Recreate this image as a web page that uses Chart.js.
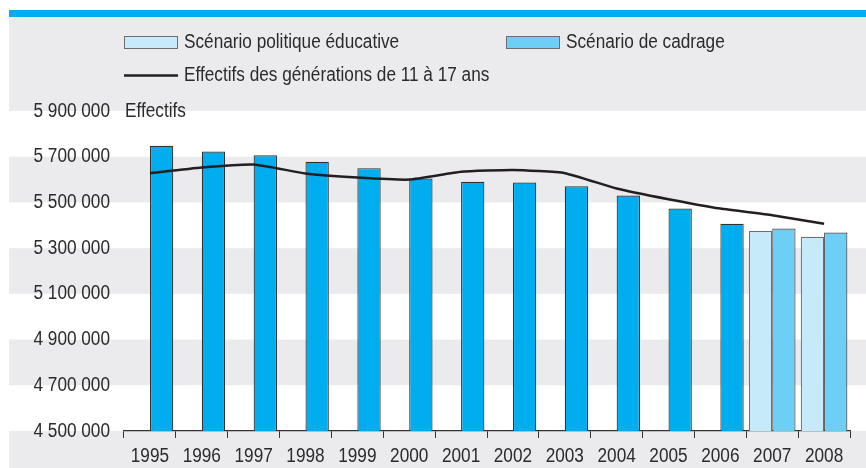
<!DOCTYPE html>
<html>
<head>
<meta charset="utf-8">
<script src="https://cdn.jsdelivr.net/npm/chart.js@4.4.1/dist/chart.umd.min.js"></script>
<style>
html,body{margin:0;padding:0;background:#fff;}
#wrap{width:866px;height:468px;position:relative;}
</style>
</head>
<body>
<div id="wrap"><canvas id="c" width="866" height="468"></canvas></div>
<script>
// ---- data ----
const years = ['1995','1996','1997','1998','1999','2000','2001','2002','2003','2004','2005','2006','2007','2008'];
const politiqueEducative = [null,null,null,null,null,null,null,null,null,null,null,null,5375000,5350000];
const cadrage = [5748000,5723000,5706000,5678000,5650000,5605000,5590000,5587000,5571000,5530000,5473000,5407000,5386000,5368000];
const generations11a17 = [5628000,5653000,5666000,5627000,5609000,5600000,5634000,5642000,5628000,5561000,5514000,5473000,5444000,5407000];
const yTicks = [4500000,4700000,4900000,5100000,5300000,5500000,5700000,5900000];
const labels = {
  pol: 'Scénario politique éducative',
  cad: 'Scénario de cadrage',
  gen: 'Effectifs des générations de 11 à 17 ans',
  yTitle: 'Effectifs'
};
const firstProjectedYear = '2007';

// ---- styles ----
const FONT = '"Liberation Sans", Arial, sans-serif';
const FSIZE = 20;
const SQUEEZE = 0.86; // condensed look
const TXT = '#2b2b2b';
const BLUE = '#00aeef';
const CAD = '#6dcff6';
const POL = '#c6eaf9';
const GRAY = '#ebebee';

function fmt(v){ return String(v).replace(/\B(?=(\d{3})+(?!\d))/g,' '); }

const projIdx = years.indexOf(firstProjectedYear);

const canvas = document.getElementById('c');
const ctx0 = canvas.getContext('2d');
const origFill = ctx0.fillText;
ctx0.fillText = function(t, x, y, mw){
  const w = this.measureText(t).width * SQUEEZE;
  return origFill.call(this, t, x, y, (mw !== undefined && mw !== null) ? Math.min(mw, w) : w);
};

const bgPlugin = {
  id:'bg',
  beforeDraw(chart){
    const ctx = chart.ctx, y = chart.scales.y;
    ctx.save();
    ctx.fillStyle = '#fff';
    ctx.fillRect(0,0,chart.width,chart.height);
    ctx.fillStyle = BLUE;
    ctx.fillRect(9,10,chart.width-9,7);
    ctx.fillStyle = GRAY;
    ctx.fillRect(9,17,chart.width-9,chart.height-17);
    ctx.fillStyle = '#fff';
    for (let i = yTicks.length-1; i > 0; i -= 2){
      const t = y.getPixelForValue(yTicks[i]);
      const b = y.getPixelForValue(yTicks[i-1]);
      ctx.fillRect(9,t,chart.width-9,b-t);
    }
    ctx.restore();
  },
  afterDraw(chart){
    const ctx = chart.ctx, y = chart.scales.y, a = chart.chartArea;
    ctx.save();
    ctx.font = FSIZE + 'px ' + FONT;
    ctx.fillStyle = TXT;
    ctx.textBaseline = 'middle';
    ctx.textAlign = 'left';
    ctx.fillText(labels.yTitle, a.left + 1, y.getPixelForValue(yTicks[yTicks.length-1]));
    // legend
    const ds = chart.data.datasets;
    const box = (x, yy, fill, stroke, text) => {
      ctx.fillStyle = fill;
      ctx.fillRect(x, yy, 54, 13);
      ctx.strokeStyle = stroke;
      ctx.lineWidth = 1;
      ctx.strokeRect(x+0.5, yy+0.5, 53, 12);
      ctx.fillStyle = TXT;
      ctx.fillText(text, x + 60, yy + 6.5);
    };
    box(124, 36, POL, '#6d6e71', ds[0].label);
    box(506, 36, CAD, '#6d6e71', ds[1].label);
    ctx.strokeStyle = '#231f20';
    ctx.lineWidth = 2.5;
    ctx.beginPath(); ctx.moveTo(124, 75.5); ctx.lineTo(178, 75.5); ctx.stroke();
    ctx.fillStyle = TXT;
    ctx.fillText(ds[2].label, 184, 75.5);
    ctx.restore();
  }
};

new Chart(ctx0, {
  data: {
    labels: years,
    datasets: [
      { type:'bar', label: labels.pol, data: politiqueEducative, order: 1,
        backgroundColor: POL, borderColor: '#6d6e71', borderWidth: 1.2,
        categoryPercentage: 0.9, barPercentage: 1.0 },
      { type:'bar', label: labels.cad, data: cadrage, order: 1,
        backgroundColor: c => c.dataIndex >= projIdx ? CAD : BLUE,
        borderColor: c => c.dataIndex >= projIdx ? '#4d4d4f' : '#333333',
        borderWidth: 1.2,
        categoryPercentage: 0.9, barPercentage: 1.0 },
      { type:'line', label: labels.gen, data: generations11a17, order: 0,
        borderColor: '#231f20', borderWidth: 2.5, pointRadius: 0, tension: 0.15, fill: false }
    ]
  },
  options: {
    responsive: false,
    animation: false,
    devicePixelRatio: 1,
    layout: { padding: { left: 0, right: 16, top: 111, bottom: 0 } },
    plugins: { legend: { display: false }, tooltip: { enabled: false } },
    scales: {
      x: {
        type: 'category',
        grid: { display: true, offset: true, drawOnChartArea: false, drawTicks: true, tickLength: 7, color: '#333', lineWidth: 1 },
        border: { display: true, color: '#333', width: 1.3 },
        ticks: { color: TXT, font: { family: FONT, size: FSIZE }, padding: 6, maxRotation: 0, minRotation: 0, autoSkip: false },
        afterFit(s){ s.height = 37; }
      },
      y: {
        min: yTicks[0], max: yTicks[yTicks.length-1],
        grid: { display: false, drawTicks: false },
        border: { display: false },
        afterBuildTicks(s){ s.ticks = yTicks.map(v => ({ value: v })); },
        ticks: { color: TXT, font: { family: FONT, size: FSIZE }, padding: 14, callback: v => fmt(v) },
        afterFit(s){ s.width = 124; }
      }
    }
  },
  plugins: [bgPlugin]
});
</script>
</body>
</html>
